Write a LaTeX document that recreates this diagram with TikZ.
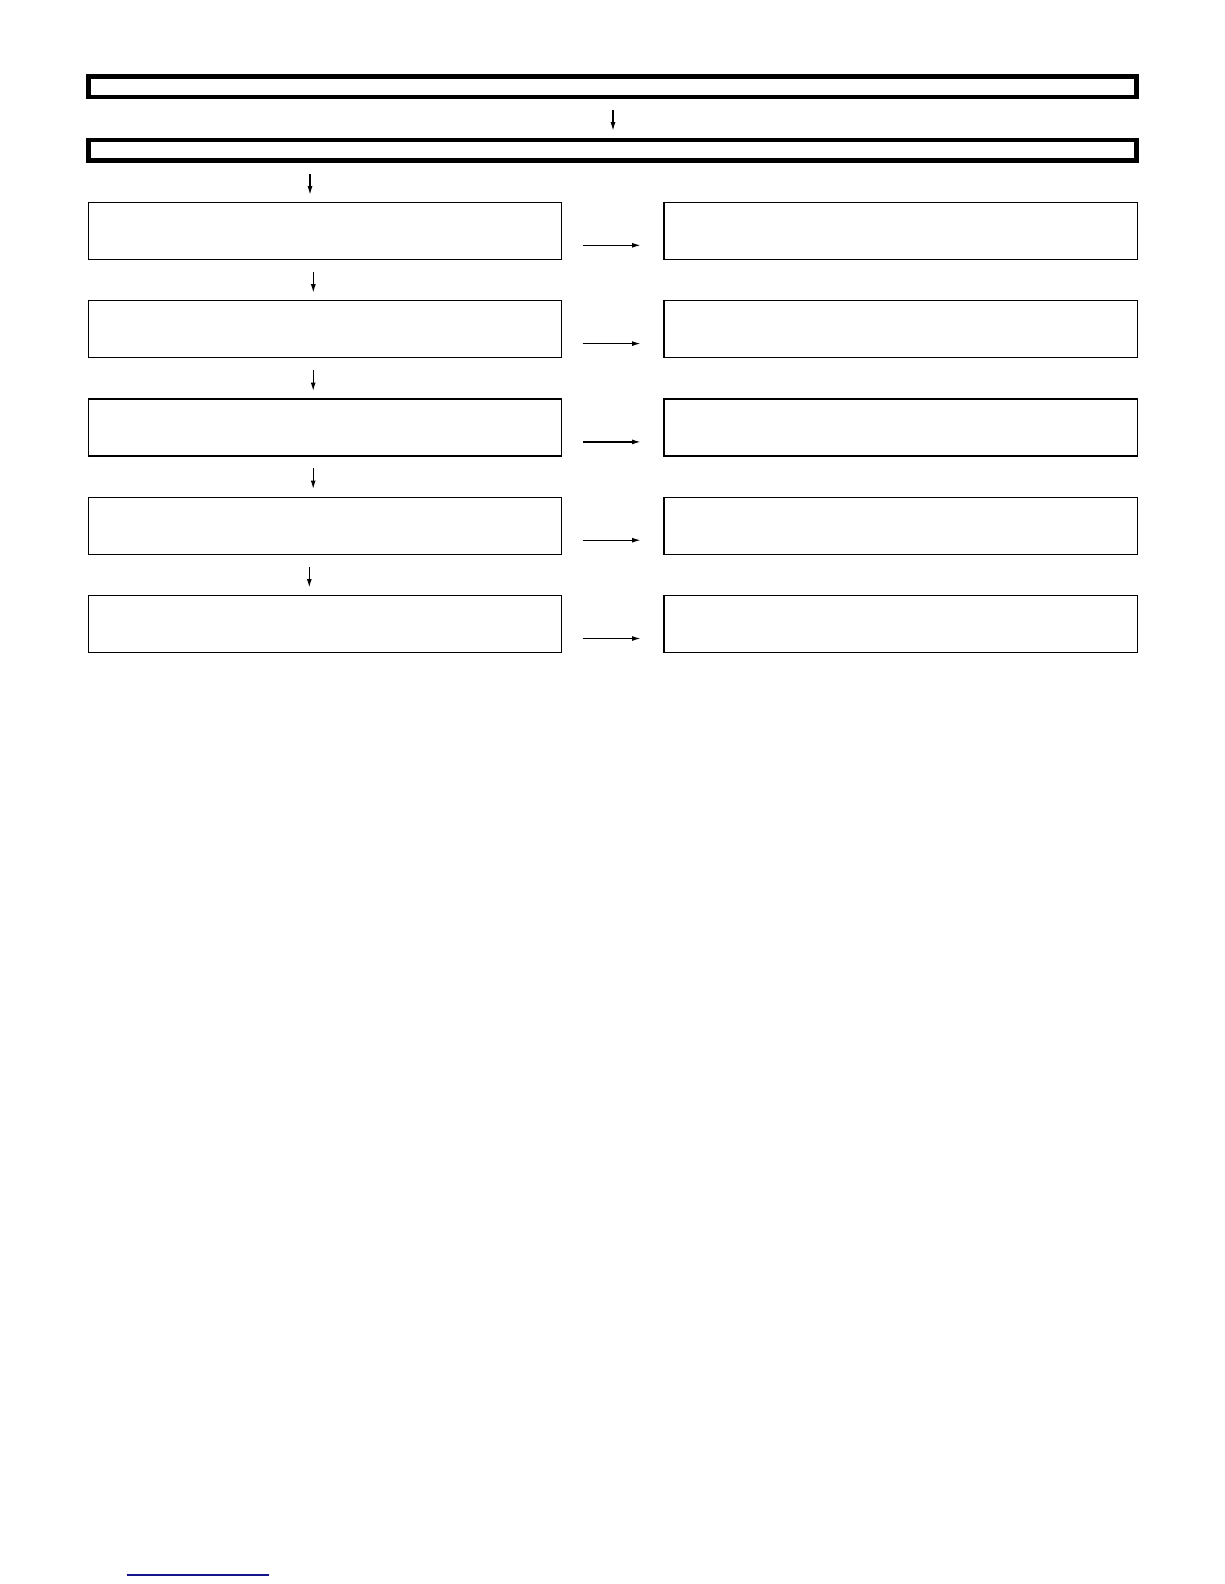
\documentclass[tikz,border=0pt]{standalone}
\usetikzlibrary{arrows.meta}
\definecolor{linkblue}{RGB}{20,20,140}
\begin{document}
\begin{tikzpicture}[x=1pt,y=-1pt,
  headbox/.style={draw,line width=4.5pt,rectangle,inner sep=0pt,minimum width=1048pt,minimum height=20.7pt},
  stepbox/.style={draw,line width=1.3pt,rectangle,inner sep=0pt,minimum width=473.4pt,minimum height=57pt},
  flow/.style={line width=1.2pt,-{Latex[length=8.5pt,width=5pt]}}]
\useasboundingbox (0,0) rectangle (1224,1584);
% header boxes
\node[headbox] (H1) at (612.4,86.65) {};
\node[headbox] (H2) at (612.4,150.3) {};
% step boxes
\foreach \i/\t in {1/202.3,2/300.6,3/398.9,4/497.2,5/595.5}{
  \node[stepbox] (L\i) at (325,\t+28.5) {};
  \node[stepbox] (R\i) at (900.6,\t+28.5) {};
  \coordinate (ha\i) at (582.7,\t+43);
  \coordinate (hb\i) at (640.5,\t+43);
}
% vertical arrow end points
\coordinate (v1a) at (613,110);   \coordinate (v1b) at (613,130.7);
\coordinate (v2a) at (310,174);   \coordinate (v2b) at (310,194.7);
\coordinate (v3a) at (313.3,271.7); \coordinate (v3b) at (313.3,292.7);
\coordinate (v4a) at (313.2,369.8); \coordinate (v4b) at (313.2,391);
\coordinate (v5a) at (313.2,467.8); \coordinate (v5b) at (313.2,489);
\coordinate (v6a) at (309.3,566.7); \coordinate (v6b) at (309.3,587.5);
\foreach \j in {1,...,6}{\draw[flow] (v\j a) -- (v\j b);}
\foreach \i in {1,...,5}{\draw[flow] (ha\i) -- (hb\i);}
% underline at the bottom
\coordinate (ul1) at (126.7,1575);
\coordinate (ul2) at (269,1575);
\draw[linkblue,line width=1.6pt] (ul1) -- (ul2);
\end{tikzpicture}
\end{document}
